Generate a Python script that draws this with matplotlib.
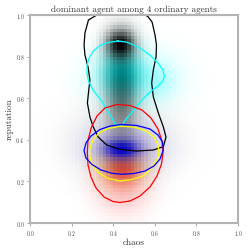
import numpy as np
import matplotlib
matplotlib.use("Agg")
import matplotlib.pyplot as plt

plt.rcParams['font.family'] = ['cmr10', 'DejaVu Serif']
plt.rcParams['axes.formatter.use_mathtext'] = True

# density blobs per agent: (cx, cy, sx, sy, weight)
yellow_blobs = [(0.44, 0.28, 0.065, 0.055, 1.0)]
red_blobs = [(0.445, 0.26, 0.055, 0.045, 1.0), (0.445, 0.2, 0.08, 0.09, 0.5)]
blue_blobs = [(0.44, 0.355, 0.055, 0.03, 1.0), (0.45, 0.36, 0.11, 0.07, 0.18)]
cyan_blobs = [(0.44, 0.72, 0.06, 0.07, 1.0), (0.5, 0.7, 0.12, 0.08, 0.3),
              (0.62, 0.68, 0.05, 0.05, 0.15)]
black_blobs = [(0.435, 0.86, 0.043, 0.045, 1.0), (0.44, 0.63, 0.05, 0.15, 0.55),
               (0.45, 0.40, 0.15, 0.12, 0.08)]
layer_alpha = {'yellow': 0.55, 'red': 0.65, 'blue': 1.0, 'cyan': 1.0, 'black': 1.0}

# contour outlines (x, y)
black_x = [0.341, 0.313, 0.281, 0.264, 0.260, 0.264, 0.279, 0.288, 0.281, 0.276, 0.288, 0.304,
           0.328, 0.369, 0.433, 0.513, 0.593, 0.641, 0.654, 0.641, 0.617, 0.593, 0.585, 0.593,
           0.606, 0.608, 0.601, 0.587, 0.567, 0.538, 0.341]
black_y = [1.010, 0.995, 0.976, 0.913, 0.856, 0.808, 0.750, 0.688, 0.625, 0.577, 0.510, 0.462,
           0.413, 0.375, 0.354, 0.346, 0.351, 0.367, 0.413, 0.462, 0.529, 0.606, 0.673, 0.736,
           0.798, 0.856, 0.904, 0.966, 0.992, 1.010, 1.010]

cyan_px = [(118, 41), (108, 42.5), (100, 45.5), (93.5, 51), (89, 58), (87, 66), (87, 73),
           (88.5, 81), (93, 90), (101, 100), (107, 110), (112, 118), (115, 124), (118, 126),
           (122, 125), (127, 118), (134, 110), (142, 100), (150, 92), (158, 86), (163, 81),
           (164.3, 76), (163, 70), (158, 63), (151, 56), (143, 50), (134, 45), (126, 42)]
red_px = [(117, 104.5), (105, 108), (97, 116), (91.5, 127), (88, 140), (87.3, 152), (88, 165),
          (91, 177), (96, 188), (104, 197), (113, 201.5), (120, 202.5), (130, 201), (140, 196),
          (150, 187), (157, 176), (161.5, 164), (163, 153), (162, 141), (158, 129), (151, 118),
          (142, 110), (130, 105.5)]
yellow_px = [(120, 126.3), (108, 128.5), (99, 133), (93, 140), (89.5, 150), (90, 158), (93, 166),
             (99, 173), (108, 178.5), (120, 181), (132, 179.5), (143, 176), (151, 169),
             (156.5, 161), (159, 153), (158, 145), (154, 137), (146, 131), (134, 127)]
blue_px = [(122, 124.5), (110, 126), (100, 129.5), (91, 136), (86, 143), (84, 150.5), (86, 158),
           (92, 164.5), (101, 170), (112, 173.3), (122, 174.3), (134, 173.5), (145, 171),
           (154, 166), (160, 159), (163.3, 150), (162.5, 142), (158, 135), (150, 129), (137, 125.5)]


def px_to_data(pts):
    # picture pixels -> axis units (axes span 30..238 in x, 223..15 in y)
    xs = [(p[0] - 30) / 208 for p in pts]
    ys = [(223 - p[1]) / 208 for p in pts]
    return xs + xs[:1], ys + ys[:1]


def density(blobs, gx, gy):
    d = np.zeros_like(gx)
    for cx, cy, sx, sy, w in blobs:
        d += w * np.exp(-0.5 * (((gx - cx) / sx) ** 2 + ((gy - cy) / sy) ** 2))
    return d / d.max()


def rgba_layer(d, color, amax):
    img = np.zeros(d.shape + (4,))
    img[..., :3] = matplotlib.colors.to_rgb(color)
    img[..., 3] = amax * np.clip(d, 0, 1) ** 0.8
    return img


fig = plt.figure(figsize=(2.49, 2.49), dpi=100)
ax = fig.add_axes([30 / 249, 26 / 249, 208 / 249, 208 / 249])

n = 60
gx, gy = np.meshgrid((np.arange(n) + 0.5) / n, (np.arange(n) + 0.5) / n)

layers = [(yellow_blobs, 'yellow'), (red_blobs, 'red'), (blue_blobs, 'blue'),
          (cyan_blobs, 'cyan'), (black_blobs, 'black')]
for blobs, col in layers:
    ax.imshow(rgba_layer(density(blobs, gx, gy), col, layer_alpha[col]), extent=[0, 1, 0, 1],
              origin='lower', interpolation='nearest', aspect='auto')

ax.plot(black_x, black_y, color='black', lw=0.9)
for pts, col in [(cyan_px, 'cyan'), (red_px, 'red'), (yellow_px, 'yellow'), (blue_px, 'blue')]:
    xs, ys = px_to_data(pts)
    ax.plot(xs, ys, color=col, lw=0.9)

ax.set_xlim(0, 1)
ax.set_ylim(0, 1)
ax.set_xticks([0, 0.2, 0.4, 0.6, 0.8, 1.0])
ax.set_yticks([0, 0.2, 0.4, 0.6, 0.8, 1.0])
ax.tick_params(labelsize=4, length=2, width=0.6, color='#999999', labelcolor='#444444', pad=2)
for s in ax.spines.values():
    s.set_color('#b3b3b3')
    s.set_linewidth(1.5)

ax.set_title('dominant agent among 4 ordinary agents', fontsize=6.6, pad=2.5, color='#333333')
ax.set_xlabel('chaos', fontsize=6.6, labelpad=1, color='#333333')
ax.set_ylabel('reputation', fontsize=6.6, labelpad=1, color='#333333')

fig.savefig('out.png', dpi=100)
